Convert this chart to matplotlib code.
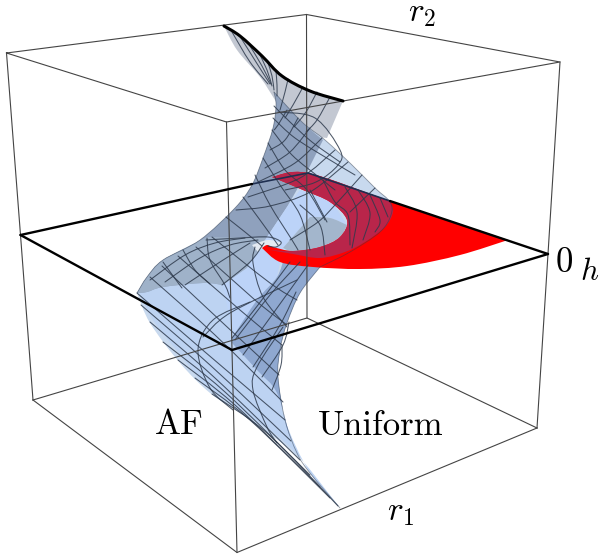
import matplotlib
matplotlib.use('Agg')
import matplotlib.pyplot as plt
import numpy as np
from matplotlib.path import Path
from matplotlib.patches import PathPatch

# box corners
top_face = [(6.5, 53), (306.5, 14.5), (560, 62), (226.5, 122), (6.5, 53)]
bottom_back = [(33, 400), (307, 318), (537, 428)]
bottom_front = [(33, 400), (237, 552.5), (537, 428)]
verticals = [[(306.5, 14.5), (307, 318)], [(6.5, 53), (20.5, 235), (33, 400)],
             [(560, 62), (548, 254), (537, 428)], [(226.5, 122), (232, 350), (237, 552.5)]]
plane_front = [(20.5, 235), (232, 350), (548, 254)]
plane_back_left = [(20.5, 235), (252, 184)]
plane_back_right = [(390, 201), (548, 254)]
plane_hidden = [(252, 184), (308, 173), (390, 201)]

# outlines of the sheets
top_curve = [(224, 26), (240, 36), (262, 56), (282, 76), (310, 91), (343, 101)]
gray_sheet = [[(224, 26), (240, 36), (262, 56), (282, 76), (310, 91), (343, 101)],
              [(343, 101), (327, 138)], [(327, 138), (300, 135)], [(300, 135), (275, 100)],
              [(275, 100), (260, 77), (237, 50), (224, 26)]]
body_left = [(274, 92), (276, 105), (273, 128), (263, 158), (252, 185), (235, 208), (200, 240), (163, 260),
             (147, 277), (137, 293)]
body_low_left = [(137, 293), (150, 323), (180, 363), (210, 393), (240, 413), (263, 430), (287, 447),
                 (307, 468), (340, 508)]
body_right_low = [(340, 508), (310, 473), (297, 453), (285, 420), (278, 377), (280, 350), (287, 323),
                  (300, 293), (320, 267)]
body_right_up = [(320, 267), (350, 252), (380, 232), (391, 215), (390, 202), (375, 188), (352, 165),
                 (325, 140), (302, 122), (274, 92)]

inner_sheet = [[(139, 292), (153, 320), (182, 357), (207, 387), (240, 410), (290, 447), (340, 508)],
               [(340, 508), (310, 473), (285, 420), (278, 377), (280, 350)], [(280, 350), (232, 270)],
               [(232, 270), (150, 280)], [(150, 280), (139, 292)]]
dark_upper = [[(274, 92), (276, 105), (273, 128), (263, 158), (252, 185), (235, 208), (200, 240), (163, 260),
               (147, 277), (137, 293)],
              [(137, 293), (147, 292), (163, 287), (203, 283), (223, 285)], [(223, 285), (247, 268)],
              [(247, 268), (263, 243)], [(263, 243), (287, 207)], [(287, 207), (307, 172)], [(307, 172), (323, 140)],
              [(323, 140), (302, 122), (274, 92)]]
shoulder = [[(207, 237), (163, 260), (147, 277), (137, 293)], [(137, 293), (147, 292), (163, 287), (203, 283), (223, 285)],
            [(223, 285), (247, 268)], [(247, 268), (263, 243)], [(263, 243), (272, 238)], [(272, 238), (207, 237)]]
light_core = [[(300, 190), (330, 202), (347, 225)], [(347, 225), (330, 218), (310, 217)],
              [(310, 217), (283, 248)], [(283, 248), (277, 277)], [(277, 277), (257, 300)], [(257, 300), (233, 336)],
              [(233, 336), (226, 300)], [(226, 300), (223, 285)], [(223, 285), (247, 268)], [(247, 268), (263, 243)],
              [(263, 243), (287, 207)], [(287, 207), (300, 190)]]
gray_pocket = [[(310, 217), (330, 218), (347, 225)], [(347, 225), (340, 237), (320, 247), (293, 251), (283, 248)],
               [(283, 248), (310, 217)]]
dark_lower = [[(232, 338), (257, 300), (277, 277), (284, 258)], [(284, 258), (320, 267)],
              [(320, 267), (300, 293), (287, 323), (280, 350), (278, 377), (285, 420), (290, 437)],
              [(290, 437), (277, 393), (257, 370), (232, 343)], [(232, 343), (232, 338)]]
swirl_light = [[(252, 245), (268, 240), (282, 243)], [(282, 243), (276, 247), (266, 246), (258, 252)], [(258, 252), (252, 245)]]
swirl_line = [(206, 240), (240, 238), (268, 237), (281, 242), (276, 247), (268, 246)]

# red part of the plane
red_all = [[(272, 177), (308, 173), (390, 201), (508, 240)],
           [(508, 240), (460, 255), (407, 266), (360, 269), (313, 267), (280, 262), (262, 248)],
           [(262, 248), (267, 245), (273, 247), (293, 251), (320, 247), (340, 237), (347, 220), (330, 202),
            (303, 190), (272, 177)]]
red_dim = [[(272, 177), (308, 173), (390, 201)], [(390, 201), (393, 212), (385, 227), (365, 242), (345, 252),
                                                 (320, 258), (293, 254), (270, 250)],
           [(270, 250), (293, 251), (320, 247), (340, 237), (347, 220), (330, 202), (303, 190), (272, 177)]]

# grid lines on the surface
mesh_fan = [[(232, 32), (250, 62), (268, 84)], [(241, 38), (256, 62), (270, 84)], [(250, 46), (262, 66), (271, 84)],
            [(259, 53), (267, 70), (272, 86)], [(268, 63), (272, 76), (274, 90)], [(276, 71), (277, 85), (277, 96)],
            [(288, 79), (285, 92), (280, 110)], [(303, 87), (293, 105), (285, 118)], [(317, 92), (306, 112), (294, 127)],
            [(330, 97), (317, 120), (306, 132)]]
mesh_neck_a = [[(273, 118), (295, 138), (330, 160), (355, 175)], [(272, 130), (292, 155), (320, 178), (335, 190)],
               [(268, 143), (285, 170), (307, 190), (325, 220)], [(263, 158), (280, 185), (300, 215), (310, 250)],
               [(255, 175), (270, 205), (292, 240), (298, 250)], [(243, 197), (260, 220), (278, 245)],
               [(226, 217), (245, 232), (262, 246)], [(274, 106), (290, 122), (312, 142), (340, 162)]]
mesh_neck_b = [[(287, 110), (278, 125), (274, 130)], [(298, 118), (285, 140), (270, 150)],
               [(310, 128), (290, 152), (265, 168)], [(322, 138), (295, 163), (258, 182)],
               [(335, 150), (300, 178), (248, 197)], [(348, 162), (310, 192), (270, 206), (236, 210)],
               [(362, 175), (335, 205), (318, 222), (290, 240)], [(375, 188), (350, 212)]]
mesh_bump = [[(278, 112), (315, 118), (340, 150), (338, 165), (316, 182), (285, 190)],
             [(323, 180), (335, 202), (348, 215), (350, 245)], [(345, 187), (357, 212), (352, 248)],
             [(358, 190), (370, 213), (363, 240)], [(370, 195), (380, 220), (375, 232)], [(380, 198), (388, 217)],
             [(310, 190), (318, 205), (327, 222)], [(325, 255), (320, 225), (300, 205)]]
mesh_shoulder = [[(150, 280), (185, 255), (215, 243), (245, 238)], [(165, 282), (200, 258), (230, 245), (258, 240)],
                 [(185, 285), (220, 262), (250, 243)], [(222, 285), (250, 262), (264, 243)],
                 [(183, 250), (195, 270), (210, 284)], [(207, 238), (210, 260), (225, 285), (230, 298)],
                 [(163, 262), (176, 280), (182, 288)]]
mesh_diag = [[(150, 277), (215, 335), (283, 402)], [(162, 266), (225, 325), (279, 375)],
             [(178, 256), (240, 310), (282, 345)], [(196, 247), (255, 300), (287, 325)],
             [(212, 237), (270, 283), (297, 300)], [(137, 293), (205, 352), (285, 420)],
             [(141, 305), (210, 365), (291, 441)], [(150, 322), (215, 378), (300, 460)],
             [(163, 342), (225, 392), (310, 475)], [(178, 360), (235, 405), (320, 487)],
             [(195, 378), (250, 420), (330, 498)], [(212, 394), (268, 434), (338, 506)]]
mesh_cross = [[(235, 340), (270, 295), (300, 262)], [(243, 355), (272, 315), (308, 265)],
              [(253, 367), (280, 325), (296, 292)], [(262, 377), (283, 345), (289, 322)],
              [(272, 390), (281, 365), (282, 345)], [(232, 338), (258, 305), (290, 262)]]
mesh_arc = [[(250, 302), (213, 320), (198, 350), (210, 388), (233, 410)],
            [(283, 327), (257, 367), (253, 390), (267, 427), (277, 443)],
            [(255, 247), (253, 263), (263, 297), (287, 327)], [(203, 337), (230, 313), (297, 280)]]

# colours
box_color = '#444444'
hidden_edge = '#1f2f50'
pale_blue = '#c8d9ee'
sheet_blue = '#bdd3f2'
dark_blue = '#8fa1bd'
shoulder_blue = '#9fb2c9'
core_blue = '#bcd3f8'
pocket_gray = '#a3b6cc'
lower_blue = '#8fa8d0'
sheet_gray = '#c3c8d2'
red = '#ff0000'
red_shaded = '#b9254a'
mesh_color = '#2e3a4c'


def smooth_verts(points):
    # catmull-rom to bezier control points, the curve itself is left to Path
    pts = np.array(points, dtype=float)
    if len(pts) == 2:
        return [tuple(pts[0]), tuple(pts[1])], [Path.MOVETO, Path.LINETO]
    verts = [tuple(pts[0])]
    codes = [Path.MOVETO]
    for i in range(len(pts) - 1):
        p0 = pts[max(i - 1, 0)]
        p1 = pts[i]
        p2 = pts[i + 1]
        p3 = pts[min(i + 2, len(pts) - 1)]
        verts += [tuple(p1 + (p2 - p0) / 6), tuple(p2 - (p3 - p1) / 6), tuple(p2)]
        codes += [Path.CURVE4] * 3
    return verts, codes


def curve(ax, points, **kwargs):
    verts, codes = smooth_verts(points)
    kwargs.setdefault('fill', False)
    kwargs.setdefault('capstyle', 'round')
    ax.add_patch(PathPatch(Path(verts, codes), **kwargs))


def region(ax, sections, color, zorder, alpha=1.0):
    verts = []
    codes = []
    for sec in sections:
        v, c = smooth_verts(sec)
        if verts:
            v = v[1:]
            c = c[1:]
        verts += v
        codes += c
    verts.append(verts[0])
    codes.append(Path.CLOSEPOLY)
    ax.add_patch(PathPatch(Path(verts, codes), facecolor=color, edgecolor='none', alpha=alpha, zorder=zorder))


def polyline(ax, points, **kwargs):
    xs, ys = zip(*points)
    ax.plot(xs, ys, **kwargs)


plt.rcParams['mathtext.fontset'] = 'cm'

fig = plt.figure(figsize=(6, 5.59), dpi=100)
ax = fig.add_axes([0, 0, 1, 1])
ax.set_xlim(0, 600)
ax.set_ylim(559, 0)
ax.axis('off')

# gray sheet at the top
region(ax, gray_sheet, sheet_gray, 2)

# surface body
region(ax, [body_left, body_low_left, body_right_low, body_right_up], pale_blue, 3)
region(ax, inner_sheet, sheet_blue, 3.5)
region(ax, dark_upper, dark_blue, 4)
region(ax, shoulder, shoulder_blue, 4.2)
region(ax, light_core, core_blue, 5)
region(ax, gray_pocket, pocket_gray, 5)
region(ax, dark_lower, lower_blue, 5)
region(ax, swirl_light, '#e4eaf2', 5.5)

# red plane, shaded where the surface lies over it
region(ax, red_all, red, 6)
region(ax, red_dim, red_shaded, 7)

for group in [mesh_fan, mesh_neck_a, mesh_neck_b, mesh_bump, mesh_shoulder, mesh_diag, mesh_cross, mesh_arc]:
    for line in group:
        curve(ax, line, edgecolor=mesh_color, lw=0.75, alpha=0.85, zorder=8)
curve(ax, swirl_line, edgecolor=mesh_color, lw=0.8, alpha=0.8, zorder=8)

# outline of the surface
for line in [body_left, body_right_low, body_right_up]:
    curve(ax, line, edgecolor=mesh_color, lw=0.6, alpha=0.5, zorder=9)

# box edges show through the surface
for line in [top_face, bottom_back, bottom_front] + verticals:
    polyline(ax, line, color=box_color, lw=0.8, zorder=8.5)

polyline(ax, plane_hidden, color=hidden_edge, lw=1.2, zorder=8.6)
for line in [plane_front, plane_back_left, plane_back_right]:
    polyline(ax, line, color='black', lw=1.7, zorder=11, solid_joinstyle='miter', solid_capstyle='round')
curve(ax, top_curve, edgecolor='black', lw=2.2, zorder=11)

ax.text(155, 433.5, 'AF', family='cmr10', fontsize=25, color='black', zorder=12)
ax.text(318, 435, 'Uniform', family='cmr10', fontsize=25, color='black', zorder=12)
ax.text(387, 520, r'$r_1$', fontsize=24, color='black', zorder=12)
ax.text(408, 21, r'$r_2$', fontsize=24, color='black', zorder=12)
ax.text(556, 272, '0', family='cmr10', fontsize=25, color='black', zorder=12)
ax.text(580, 280, r'$h$', fontsize=22.5, color='black', zorder=12)

fig.savefig('out.png', dpi=100)
plt.close(fig)
